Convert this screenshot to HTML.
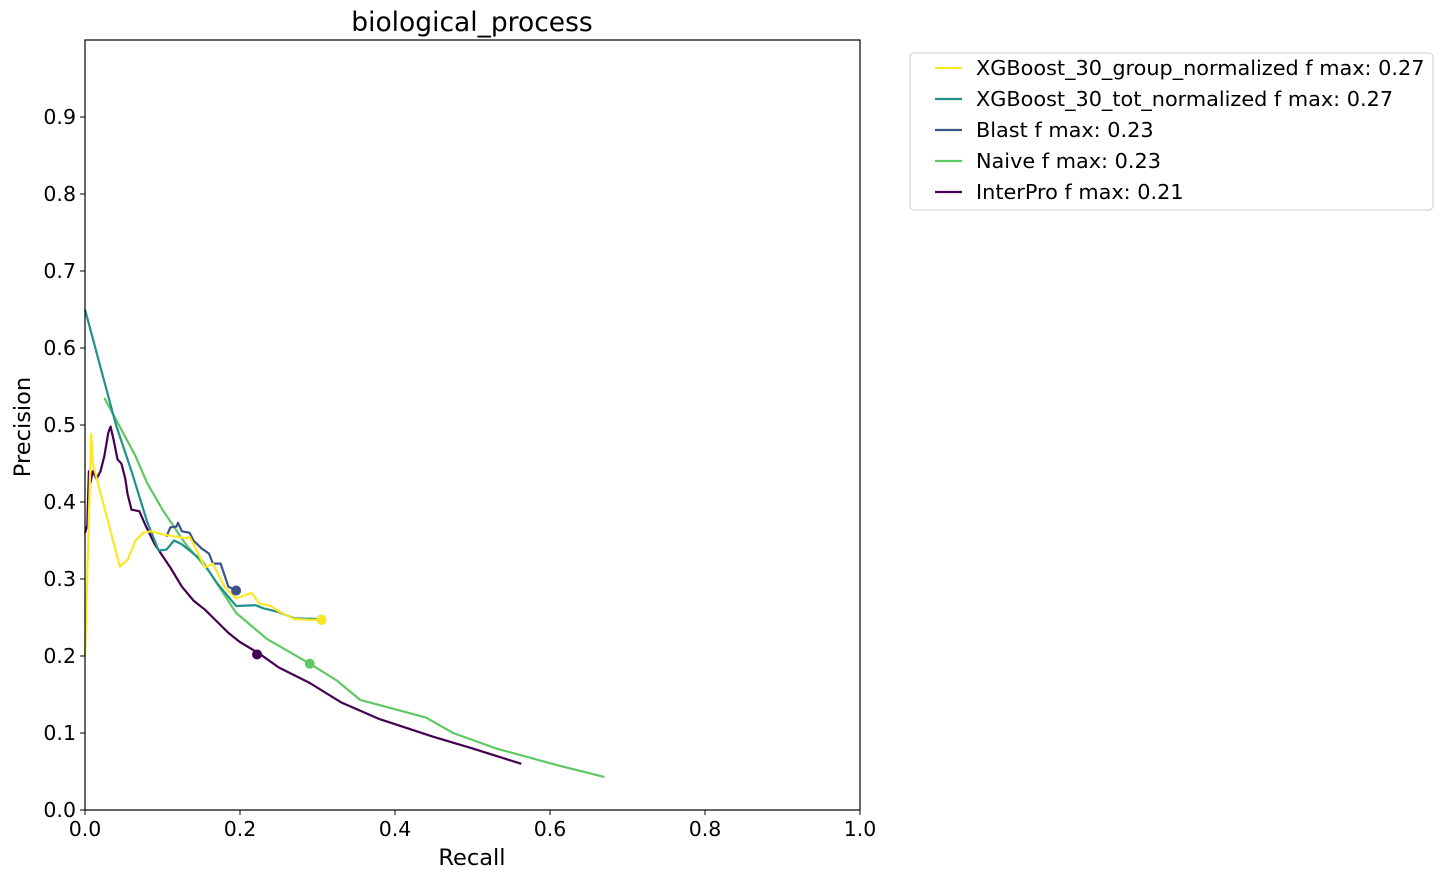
<!DOCTYPE html>
<html><head><meta charset="utf-8"><style>
body{margin:0;background:#fff;font-family:"DejaVu Sans","Liberation Sans",sans-serif;}
svg text{font-family:"DejaVu Sans","Liberation Sans",sans-serif;}
</style></head><body>
<svg id="chart" width="1443" height="879" xmlns="http://www.w3.org/2000/svg">
<rect width="1443" height="879" fill="#fff"/>
<text x="472" y="31" font-size="26.5" text-anchor="middle">biological_process</text>
<g id="plot"></g>
<rect x="85" y="40" width="775" height="770" fill="none" stroke="#000" stroke-width="1.2"/>
<text x="472" y="865" font-size="22.5" text-anchor="middle">Recall</text>
<text x="30" y="427" font-size="22.5" text-anchor="middle" transform="rotate(-90 30 427)">Precision</text>
<g id="legend">
<rect x="910" y="53" width="523" height="157" rx="4" fill="#fff" stroke="#ccc"/>
</g>
</svg>
<script>
const xTicks=[0,0.2,0.4,0.6,0.8,1.0];
const xTickLabels=["0.0","0.2","0.4","0.6","0.8","1.0"];
const yTicks=[0,0.1,0.2,0.3,0.4,0.5,0.6,0.7,0.8,0.9];
const yTickLabels=["0.0","0.1","0.2","0.3","0.4","0.5","0.6","0.7","0.8","0.9"];
const seriesNames=["XGBoost_30_group_normalized f max: 0.27","XGBoost_30_tot_normalized f max: 0.27","Blast f max: 0.23","Naive f max: 0.23","InterPro f max: 0.21"];
const seriesColors=["#fde725","#21918c","#3b528b","#5ec962","#440154"];
const groupRecall=[0,0.008,0.01,0.045,0.055,0.065,0.07,0.075,0.085,0.1,0.13,0.135,0.145,0.155,0.165,0.18,0.195,0.215,0.225,0.24,0.25,0.27,0.29,0.305];
const groupPrec=[0.2,0.488,0.45,0.316,0.325,0.35,0.355,0.36,0.362,0.358,0.353,0.355,0.335,0.315,0.32,0.29,0.275,0.282,0.268,0.265,0.258,0.248,0.247,0.247];
const totRecall=[0,0.04,0.06,0.08,0.095,0.105,0.115,0.125,0.15,0.17,0.195,0.22,0.23,0.25,0.27,0.3,0.305];
const totPrec=[0.65,0.5,0.44,0.375,0.337,0.338,0.35,0.345,0.325,0.295,0.265,0.266,0.262,0.257,0.249,0.248,0.247];
const blastRecall=[0.105,0.11,0.118,0.12,0.125,0.135,0.14,0.15,0.16,0.165,0.175,0.18,0.185,0.195];
const blastPrec=[0.355,0.367,0.368,0.373,0.362,0.36,0.35,0.34,0.333,0.32,0.32,0.305,0.29,0.285];
const naiveRecall=[0.025,0.065,0.08,0.1,0.13,0.16,0.195,0.235,0.29,0.325,0.355,0.44,0.475,0.53,0.61,0.67];
const naivePrec=[0.535,0.46,0.425,0.39,0.345,0.31,0.256,0.222,0.19,0.168,0.143,0.12,0.1,0.08,0.058,0.043];
const iprRecall=[0,0.003,0.005,0.007,0.01,0.015,0.02,0.025,0.03,0.033,0.037,0.042,0.047,0.052,0.055,0.06,0.07,0.078,0.09,0.1,0.11,0.125,0.14,0.155,0.17,0.185,0.2,0.225,0.25,0.29,0.33,0.38,0.45,0.5,0.563];
const iprPrec=[0.36,0.37,0.44,0.425,0.44,0.43,0.44,0.46,0.49,0.498,0.48,0.455,0.45,0.43,0.41,0.39,0.388,0.37,0.345,0.33,0.315,0.29,0.272,0.26,0.245,0.23,0.218,0.203,0.185,0.165,0.14,0.118,0.095,0.08,0.06];
const fmaxRecall=[0.305,0.305,0.195,0.29,0.222];
const fmaxPrec=[0.247,0.247,0.285,0.19,0.202];

const X=r=>85+775*r, Y=p=>810-770*p;
const NS="http://www.w3.org/2000/svg";
const plot=document.getElementById('plot'), svg=document.getElementById('chart');
function mk(t,a,parent){const e=document.createElementNS(NS,t);for(const k in a)e.setAttribute(k,a[k]);(parent||svg).appendChild(e);return e;}
xTicks.forEach((v,i)=>{
 const t=mk('line',{x1:X(v),x2:X(v),y1:810,y2:815,stroke:'#000'});
 
 
 const l=mk('text',{x:X(v),y:836,'font-size':20.5,'text-anchor':'middle'});l.textContent=xTickLabels[i];
 
 
});
yTicks.forEach((v,i)=>{
 const t=mk('line',{x1:80,x2:85,y1:Y(v),y2:Y(v),stroke:'#000'});
 
 
 const l=mk('text',{x:76,y:Y(v)+7,'font-size':20.5,'text-anchor':'end'});l.textContent=yTickLabels[i];
 
 
});
const seriesR=[groupRecall,totRecall,blastRecall,naiveRecall,iprRecall];
const seriesP=[groupPrec,totPrec,blastPrec,naivePrec,iprPrec];
const order=[4,3,2,1,0];
order.forEach(i=>{
 const pts=seriesR[i].map((r,j)=>X(r).toFixed(1)+','+Y(seriesP[i][j]).toFixed(1)).join(' ');
 const pl=mk('polyline',{points:pts,fill:'none',stroke:seriesColors[i],'stroke-width':2.2,'stroke-linejoin':'round'},plot);
 
 
});
order.forEach(i=>{
 const c=mk('circle',{cx:X(fmaxRecall[i]),cy:Y(fmaxPrec[i]),r:5,fill:seriesColors[i]},plot);
 
 
});
const lg=document.getElementById('legend');
seriesNames.forEach((n,i)=>{
 const y=68+31*i;
 const l=mk('line',{x1:935,x2:962,y1:y,y2:y,stroke:seriesColors[i],'stroke-width':2.2},lg);
 
 
 const t=mk('text',{x:976,y:y+7,'font-size':20.8},lg);t.textContent=n;
 
 
});
</script>
</body></html>
